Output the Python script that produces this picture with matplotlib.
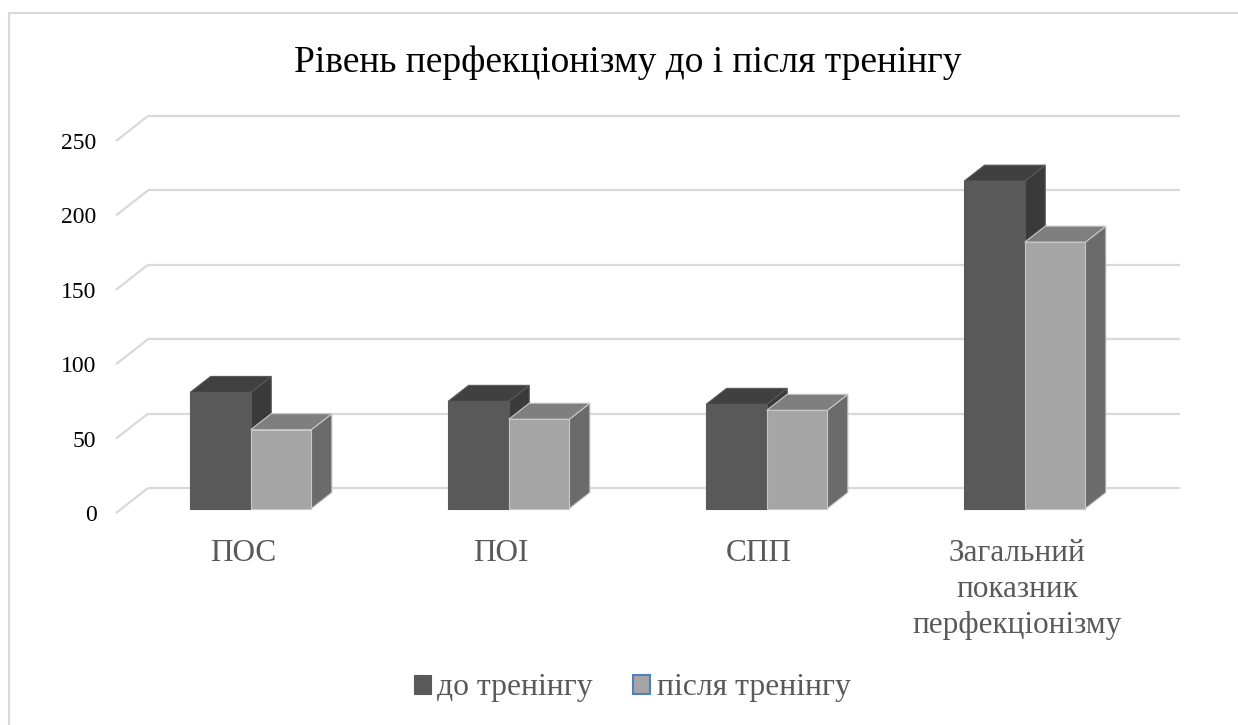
import matplotlib
matplotlib.use("Agg")
import matplotlib.pyplot as plt
from matplotlib.patches import Polygon, Rectangle
import numpy as np

plt.rcParams['font.family'] = ['Liberation Serif', 'DejaVu Serif']

# ---- data ----
categories = ["ПОС", "ПОІ", "СПП", "Загальний\nпоказник\nперфекціонізму"]
series_names = ["до тренінгу", "після тренінгу"]
before = [78, 72, 70, 220]
after = [53, 60, 66, 179]
yticks = [0, 50, 100, 150, 200, 250]
title = "Рівень перфекціонізму до і після тренінгу"

# ---- style ----
front_cols = ["#595959", "#a5a5a5"]
top_cols = ["#404040", "#7f7f7f"]
side_cols = ["#3a3a3a", "#6b6b6b"]
edge_cols = ["#595959", "#c8c8c8"]
grid_col = "#d9d9d9"
text_col = "#595959"

W, H, DPI = 1238, 725, 100
fig = plt.figure(figsize=(W / DPI, H / DPI), dpi=DPI)
fig.patch.set_facecolor("white")

# chart border (cropped at right and bottom like the source)
fig.add_artist(Rectangle((9 / W, -0.05), 1.1, 1 - 13 / H + 0.05,
                         transform=fig.transFigure, fill=False,
                         edgecolor="#d9d9d9", lw=1.5))

# front plane of the 3-D box
ax_l, ax_r, ax_b, ax_t = 116, 1148, 513, 141
ax = fig.add_axes([ax_l / W, 1 - ax_b / H, (ax_r - ax_l) / W, (ax_b - ax_t) / H])
n = len(categories)
ax.set_xlim(0, n)
ax.set_ylim(0, 250)
for s in ax.spines.values():
    s.set_visible(False)
ax.patch.set_alpha(0)

# depth in data units (32 px right, 25 px up for full depth)
DX = 32 / (ax_r - ax_l) * n
DY = 25 / (ax_b - ax_t) * 250

# back-wall gridlines + floor/side diagonals
for v in yticks:
    ax.plot([DX, n + DX], [v + DY, v + DY], color=grid_col, lw=1.6,
            clip_on=False, zorder=1, solid_capstyle="butt")
    ax.plot([0, DX], [v, v + DY], color=grid_col, lw=1.6,
            clip_on=False, zorder=1, solid_capstyle="butt")

ax.set_yticks(yticks)
ax.set_yticklabels([str(v) for v in yticks], fontsize=17, color="black")
ax.tick_params(axis="y", length=0, pad=14)
ax.set_xticks([])

# bars: front face at depth d0, back at d1
d0, d1 = 0.18, 0.82
bw = 0.235
x = np.arange(n) + 0.5
z = 3
for i in range(n):
    for k, vals in enumerate([before, after]):
        v = vals[i]
        left = x[i] - bw + k * bw + d0 * DX
        base = d0 * DY
        ddx = (d1 - d0) * DX
        ddy = (d1 - d0) * DY
        side = Polygon([(left + bw, base), (left + bw + ddx, base + ddy),
                        (left + bw + ddx, base + ddy + v), (left + bw, base + v)],
                       closed=True, facecolor=side_cols[k], edgecolor=edge_cols[k],
                       lw=0.8, zorder=z, clip_on=False)
        ax.add_patch(side)
        top = Polygon([(left, base + v), (left + ddx, base + v + ddy),
                       (left + bw + ddx, base + v + ddy), (left + bw, base + v)],
                      closed=True, facecolor=top_cols[k], edgecolor=edge_cols[k],
                      lw=0.8, zorder=z + 0.1, clip_on=False)
        ax.add_patch(top)
        ax.bar(left, v, width=bw, bottom=base, align="edge",
               color=front_cols[k], edgecolor=edge_cols[k], lw=0.8,
               zorder=z + 0.2, clip_on=False,
               label=series_names[k] if i == 0 else None)
        z += 1

# category labels
for i, c in enumerate(categories):
    ax.text(x[i] + 0.5 * DX - 0.07, -17.5, c, ha="center", va="top",
            fontsize=22.5, color=text_col, linespacing=1.32,
            transform=ax.transData, clip_on=False)

fig.text(627.5 / W, 1 - 63 / H, title, ha="center", va="center", fontsize=27,
         color="black")

handles, labels = ax.get_legend_handles_labels()
leg = fig.legend(handles, labels, loc="center", bbox_to_anchor=(632 / W, 1 - 688 / H),
                 ncol=2, frameon=False, fontsize=22.8, handlelength=0.55,
                 handleheight=0.55, handletextpad=0.2, columnspacing=1.26)
for t in leg.get_texts():
    t.set_color(text_col)
leg.legend_handles[1].set_edgecolor("#4f81bd")
leg.legend_handles[1].set_linewidth(1.5)

fig.savefig("out.png", dpi=DPI)
